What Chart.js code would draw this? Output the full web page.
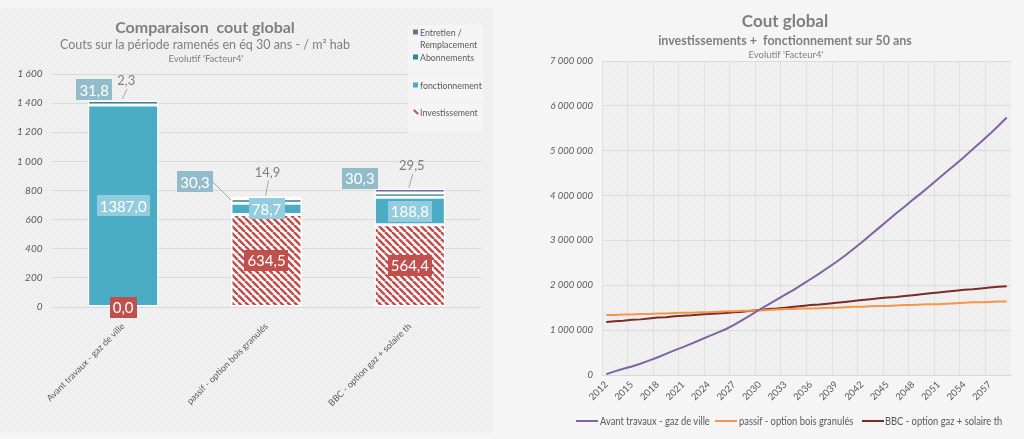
<!DOCTYPE html>
<html lang="fr">
<head>
<meta charset="utf-8">
<title>Comparaison cout global</title>
<script src="https://cdn.jsdelivr.net/npm/chart.js@4.4.1/dist/chart.umd.min.js"></script>
<style>
  html, body { margin: 0; padding: 0; }
  body { width: 1024px; height: 439px; background: #f5f5f5; position: relative; overflow: hidden;
         font-family: Lato, "Open Sans", sans-serif; color: #7f7f7f; }
  canvas { position: absolute; }
  #graficoBarres { left: 0; top: 8px; }
  #graficoCourbes { left: 546px; top: 0; }
  .titre { position: absolute; transform: translate(-50%, -50%); white-space: pre; line-height: 1; color: #7f7f7f; }
  .leg { position: absolute; font-size: 10px; color: #595959; line-height: 1; white-space: pre;
         transform: translateY(-50%) scaleX(0.88); transform-origin: left center; }
  .bas { font-size: 10.5px; transform: translateY(-50%) scaleX(0.89); }
  .carre { position: absolute; width: 5px; height: 5px; transform: translateY(-50%); }
  .trait { position: absolute; width: 22px; height: 2px; transform: translateY(-50%); }
  #boiteLegende { position: absolute; left: 408px; top: 25px; width: 75px; height: 108px; background: rgba(246,246,246,0.75); }
</style>
</head>
<body>
<canvas id="graficoBarres" width="493" height="425"></canvas>
<canvas id="graficoCourbes" width="478" height="439"></canvas>

<!-- titres graphique de gauche -->
<div class="titre" style="left:205px; top:27px; font-size:16px; font-weight:bold;">Comparaison  cout global</div>
<div class="titre" style="left:205px; top:45px; font-size:12.5px;">Couts sur la période ramenés en éq 30 ans - / m² hab</div>
<div class="titre" style="left:206px; top:59px; font-size:9.5px;">Evolutif 'Facteur4'</div>

<!-- légende graphique de gauche -->
<div id="boiteLegende"></div>
<span class="carre" style="left:413px; top:32px; background:#8064A2;"></span>
<div class="leg" style="left:420px; top:32px;">Entretien /</div>
<div class="leg" style="left:420px; top:44px;">Remplacement</div>
<span class="carre" style="left:413px; top:57px; background:#31859C;"></span>
<div class="leg" style="left:420px; top:57px;">Abonnements</div>
<span class="carre" style="left:413px; top:85px; background:#4BACC6;"></span>
<div class="leg" style="left:420px; top:85px;">fonctionnement</div>
<span class="carre" style="left:413px; top:112px; height:2px; width:6px; background:#C0504D; transform:translateY(-50%) rotate(40deg);"></span>
<div class="leg" style="left:420px; top:112px;">Investissement</div>

<!-- titres graphique de droite -->
<div class="titre" style="left:785px; top:20px; font-size:17px; font-weight:bold;">Cout global</div>
<div class="titre" style="left:785px; top:41px; font-size:12.5px; font-weight:bold;">investissements +  fonctionnement sur 50 ans</div>
<div class="titre" style="left:786px; top:55px; font-size:9.5px;">Evolutif 'Facteur4'</div>

<!-- légende graphique de droite -->
<span class="trait" style="left:576px; top:421px; background:#8064A2;"></span>
<div class="leg bas" style="left:600px; top:421px;">Avant travaux - gaz de ville</div>
<span class="trait" style="left:715px; top:421px; background:#F79646;"></span>
<div class="leg bas" style="left:739px; top:421px;">passif - option bois granulés</div>
<span class="trait" style="left:862px; top:421px; background:#7A2C2A;"></span>
<div class="leg bas" style="left:885px; top:421px;">BBC - option gaz + solaire th</div>

<script>
// Données - coûts ramenés en éq 30 ans / m² hab
const categories = ["Avant travaux - gaz de ville", "passif - option bois granulés", "BBC - option gaz + solaire th"];
const investissement = [0.0, 634.5, 564.4];
const fonctionnement = [1387.0, 78.7, 188.8];
const abonnements = [31.8, 30.3, 30.3];
const entretien = [2.3, 14.9, 29.5];

// Données - coût global cumulé sur 50 ans
const annees = [2012, 2013, 2014, 2015, 2016, 2017, 2018, 2019, 2020, 2021,
                2022, 2023, 2024, 2025, 2026, 2027, 2028, 2029, 2030, 2031,
                2032, 2033, 2034, 2035, 2036, 2037, 2038, 2039, 2040, 2041,
                2042, 2043, 2044, 2045, 2046, 2047, 2048, 2049, 2050, 2051,
                2052, 2053, 2054, 2055, 2056, 2057, 2058, 2059];
const avantTravaux = [20000, 80000, 140000, 190000, 250000, 320000, 390000, 470000, 550000, 620000,
                      700000, 780000, 860000, 940000, 1020000, 1120000, 1230000, 1340000, 1460000, 1570000,
                      1680000, 1790000, 1900000, 2020000, 2140000, 2260000, 2390000, 2520000, 2660000, 2810000,
                      2960000, 3120000, 3280000, 3440000, 3600000, 3750000, 3910000, 4060000, 4220000, 4380000,
                      4540000, 4700000, 4860000, 5030000, 5200000, 5370000, 5550000, 5740000];
const passif = [1340000, 1340000, 1350000, 1350000, 1360000, 1360000, 1370000, 1370000, 1380000, 1390000,
                1390000, 1400000, 1400000, 1410000, 1420000, 1420000, 1430000, 1430000, 1440000, 1450000,
                1460000, 1470000, 1470000, 1480000, 1480000, 1490000, 1500000, 1500000, 1510000, 1520000,
                1520000, 1530000, 1540000, 1540000, 1550000, 1560000, 1560000, 1570000, 1580000, 1580000,
                1590000, 1600000, 1610000, 1620000, 1620000, 1630000, 1640000, 1640000];
const bbc = [1180000, 1200000, 1210000, 1230000, 1240000, 1260000, 1280000, 1290000, 1310000, 1320000,
             1330000, 1350000, 1360000, 1370000, 1380000, 1400000, 1410000, 1430000, 1450000, 1470000,
             1480000, 1500000, 1520000, 1540000, 1560000, 1570000, 1590000, 1610000, 1630000, 1650000,
             1670000, 1690000, 1710000, 1730000, 1740000, 1760000, 1780000, 1800000, 1820000, 1840000,
             1860000, 1880000, 1900000, 1910000, 1930000, 1950000, 1970000, 1980000];

// Motif hachuré (diagonales "\")
function hachure(fond, trait, taille, epaisseur) {
    const c = document.createElement("canvas");
    c.width = c.height = taille;
    const g = c.getContext("2d");
    g.fillStyle = fond;
    g.fillRect(0, 0, taille, taille);
    g.strokeStyle = trait;
    g.lineWidth = epaisseur;
    g.beginPath();
    for (let k = -taille; k <= taille; k += taille) {
        g.moveTo(k, 0);
        g.lineTo(k + taille, taille);
    }
    g.stroke();
    return g.createPattern(c, "repeat");
}

const motifFond = hachure("#ECECEC", "#F5F5F5", 4, 1.2);
const motifRouge = hachure("#FFFFFF", "#C0504D", 7, 2.6);

const formatNombre = v => String(v).replace(/\B(?=(\d{3})+(?!\d))/g, " ");
const formatDecimal = v => v.toFixed(1).replace(".", ",");

// Fond du graphique de gauche (tout le canvas)
const fondGauche = {
    id: "fondGauche",
    beforeDraw(chart) {
        const ctx = chart.ctx;
        ctx.save();
        ctx.fillStyle = motifFond;
        ctx.fillRect(0, 0, chart.width, chart.height);
        ctx.restore();
    }
};

// Fond de la zone de tracé à droite
const fondDroite = {
    id: "fondDroite",
    beforeDraw(chart) {
        const { ctx, chartArea } = chart;
        ctx.save();
        ctx.fillStyle = motifFond;
        ctx.fillRect(chartArea.left, chartArea.top, chartArea.width, chartArea.height);
        ctx.restore();
    }
};

// Étiquettes de valeurs (boîtes colorées + lignes de rappel)
const stylesEtiquettes = [
    { boite: "#C0504D", texte: "#FFFFFF" },
    { boite: "#93CDDD", texte: "#FFFFFF" },
    { boite: "#93BCCB", texte: "#FFFFFF", decalages: [[-29, -13], [-71.5, -19], [-50, -16.5]] },
    { boite: null, texte: "#7F7F7F", decalages: [[3, -19], [1, -24], [2, -23]] }
];

const etiquettes = {
    id: "etiquettes",
    afterDatasetsDraw(chart) {
        const ctx = chart.ctx;
        ctx.save();
        ctx.textAlign = "center";
        ctx.textBaseline = "middle";
        chart.data.datasets.forEach((ds, di) => {
            const st = stylesEtiquettes[di];
            chart.getDatasetMeta(di).data.forEach((bar, i) => {
                const texte = formatDecimal(ds.data[i]);
                const milieu = (bar.y + bar.base) / 2;
                const gauche = bar.x - bar.width / 2;
                let x = bar.x, y = milieu;

                if (di === 3) {
                    x = bar.x + st.decalages[i][0];
                    y = bar.y + st.decalages[i][1];
                    ctx.strokeStyle = "#A6A6A6";
                    ctx.lineWidth = 1;
                    ctx.beginPath();
                    ctx.moveTo(x + 1, y + 8);
                    ctx.lineTo(bar.x - 1, bar.y - 1);
                    ctx.stroke();
                    ctx.font = "13px Lato";
                    ctx.fillStyle = st.texte;
                    ctx.fillText(texte, x, y);
                    return;
                }

                ctx.font = "15px Lato";
                const w = ctx.measureText(texte).width + 6;
                const h = 21;
                if (di === 2) {
                    x = bar.x + st.decalages[i][0];
                    y = milieu + st.decalages[i][1];
                    if (x + w / 2 < gauche - 3) {
                        ctx.strokeStyle = "#A6A6A6";
                        ctx.lineWidth = 1;
                        ctx.beginPath();
                        ctx.moveTo(x + w / 2, y);
                        ctx.lineTo(gauche, milieu - 1);
                        ctx.stroke();
                    }
                }
                ctx.fillStyle = st.boite;
                ctx.fillRect(Math.round(x - w / 2), Math.round(y - h / 2), Math.round(w), h);
                ctx.fillStyle = st.texte;
                ctx.fillText(texte, x, y + 1);
            });
        });
        ctx.restore();
    }
};

const policeAxe = { family: "Lato", size: 10, style: "italic" };

// Graphique de gauche : barres empilées
new Chart(document.getElementById("graficoBarres"), {
    type: "bar",
    data: {
        labels: categories,
        datasets: [
            { label: "Investissement", data: investissement, backgroundColor: motifRouge },
            { label: "fonctionnement", data: fonctionnement, backgroundColor: "#4BACC6" },
            { label: "Abonnements", data: abonnements, backgroundColor: "#31859C" },
            { label: "Entretien / Remplacement", data: entretien, backgroundColor: "#8064A2" }
        ]
    },
    options: {
        responsive: false,
        animation: false,
        devicePixelRatio: 1,
        layout: { padding: { top: 66, right: 11.5, bottom: 0, left: 0 } },
        datasets: {
            bar: { categoryPercentage: 1, barPercentage: 0.495, borderColor: "#FFFFFF", borderWidth: 1.5, borderSkipped: false }
        },
        plugins: { legend: { display: false }, tooltip: { enabled: false } },
        scales: {
            x: {
                stacked: true,
                grid: { display: false },
                border: { display: false },
                ticks: { maxRotation: 45, minRotation: 45, padding: 6, color: "#595959", font: { family: "Lato", size: 9 } },
                afterFit: s => { s.height = 126; }
            },
            y: {
                stacked: true,
                min: 0,
                max: 1600,
                ticks: { stepSize: 200, padding: 9, color: "#595959", font: policeAxe, callback: v => formatNombre(v) },
                grid: { color: "#D9D9D9", drawTicks: false },
                border: { display: false },
                afterFit: s => { s.width = 51.5; }
            }
        }
    },
    plugins: [fondGauche, etiquettes]
});

// Graphique de droite : coût global cumulé
new Chart(document.getElementById("graficoCourbes"), {
    type: "line",
    data: {
        labels: annees,
        datasets: [
            { label: "Avant travaux - gaz de ville", data: avantTravaux, borderColor: "#8064A2" },
            { label: "passif - option bois granulés", data: passif, borderColor: "#F79646" },
            { label: "BBC - option gaz + solaire th", data: bbc, borderColor: "#7A2C2A" }
        ]
    },
    options: {
        responsive: false,
        animation: false,
        devicePixelRatio: 1,
        layout: { padding: { top: 61, right: 13, bottom: 34, left: 0 } },
        datasets: { line: { borderWidth: 2, pointRadius: 0, tension: 0 } },
        plugins: { legend: { display: false }, tooltip: { enabled: false } },
        scales: {
            x: {
                offset: true,
                grid: {
                    offset: true,
                    drawTicks: false,
                    color: ctx => ctx.index % 3 === 0 ? "#E0E0E0" : "rgba(0,0,0,0)"
                },
                border: { color: "#D9D9D9" },
                ticks: {
                    autoSkip: false, maxRotation: 45, minRotation: 45, padding: 4,
                    color: "#595959", font: { family: "Lato", size: 9.5 },
                    callback: function (v, i) { return i % 3 === 0 ? this.getLabelForValue(v) : ""; }
                },
                afterFit: s => { s.height = 30; }
            },
            y: {
                min: 0,
                max: 7000000,
                ticks: { stepSize: 1000000, padding: 9, color: "#595959", font: { family: "Lato", size: 9.5, style: "italic" }, callback: v => formatNombre(v) },
                grid: { color: "#DCDCDC", drawTicks: false },
                border: { display: false },
                afterFit: s => { s.width = 56; }
            }
        }
    },
    plugins: [fondDroite]
});
</script>
</body>
</html>
